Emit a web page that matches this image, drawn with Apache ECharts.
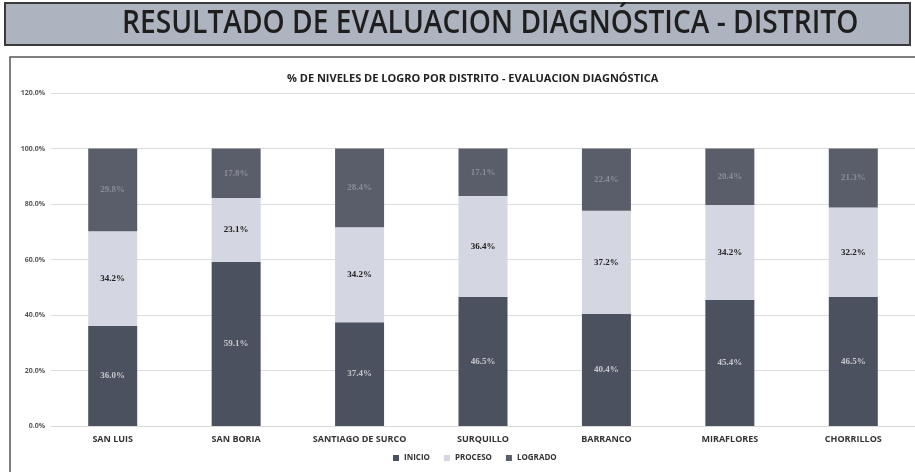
<!DOCTYPE html>
<html><head><meta charset="utf-8">
<script src="https://cdn.jsdelivr.net/npm/echarts@6/dist/echarts.min.js"></script>
<style>html,body{margin:0;padding:0;background:#fff;}#c{width:915px;height:472px;}</style>
</head><body><div id="c"></div>
<script>
const categories = ['SAN LUIS','SAN BORIA','SANTIAGO DE SURCO','SURQUILLO','BARRANCO','MIRAFLORES','CHORRILLOS'];
const inicio   = [36.0, 59.1, 37.4, 46.5, 40.4, 45.4, 46.5];
const proceso  = [34.2, 23.1, 34.2, 36.4, 37.2, 34.2, 32.2];
const logrado  = [29.8, 17.8, 28.4, 17.1, 22.4, 20.4, 21.3];
const yTicks = [0, 20, 40, 60, 80, 100, 120];

const chart = echarts.init(document.getElementById('c'));
const lbl = (color) => ({
  show: true, position: 'inside', color: color, fontSize: 9, fontWeight: 'bold',
  fontFamily: 'Liberation Serif', formatter: p => p.value.toFixed(1) + '%'
});
chart.setOption({
  animation: false,
  backgroundColor: '#fff',
  graphic: [
    {type: 'rect', shape: {x: 5, y: 3, width: 905, height: 42}, style: {fill: '#aeb3c0', stroke: '#3a3a3a', lineWidth: 2}, z: 0},
    {type: 'text', x: 122, y: 24, scaleX: 0.88,
     style: {x: 0, y: 0, text: 'RESULTADO DE EVALUACION DIAGNÓSTICA - DISTRITO', fill: '#1e1e1e',
             font: '600 32px "Open Sans"', textAlign: 'left', textVerticalAlign: 'middle'}, z: 1},
    {type: 'rect', shape: {x: 10, y: 57, width: 910, height: 420}, style: {fill: 'none', stroke: '#555', lineWidth: 1.5}, z: 0}
  ],
  title: {
    text: '% DE NIVELES DE LOGRO POR DISTRITO - EVALUACION DIAGNÓSTICA',
    left: 282, top: 68,
    textStyle: {fontSize: 11, fontWeight: 'bold', color: '#222', fontFamily: 'Open Sans'}
  },
  legend: {
    bottom: 5, left: 388, itemWidth: 6, itemHeight: 6, itemGap: 14,
    icon: 'rect',
    textStyle: {fontSize: 8, fontWeight: 'bold', color: '#333', fontFamily: 'Open Sans'},
    data: ['INICIO', 'PROCESO', 'LOGRADO']
  },
  grid: {left: 51, top: 93, width: 866, height: 333},
  xAxis: {
    type: 'category', data: categories,
    axisLine: {show: true, lineStyle: {color: '#d9d9d9'}}, axisTick: {show: false},
    axisLabel: {fontSize: 9, fontWeight: 'bold', color: '#333', fontFamily: 'Open Sans', margin: 9}
  },
  yAxis: {
    type: 'value', min: 0, max: 120, interval: 20,
    axisLine: {show: false}, axisTick: {show: false},
    splitLine: {lineStyle: {color: '#dcdcdc'}},
    axisLabel: {fontSize: 7, color: '#555', fontWeight: 'bold', fontFamily: 'Open Sans', margin: 6,
      formatter: v => yTicks.includes(v) ? v.toFixed(1) + '%' : ''}
  },
  series: [
    {name: 'INICIO', type: 'bar', stack: 't', data: inicio, barWidth: 49,
     itemStyle: {color: '#4c5160'}, label: lbl('#c8c8cc')},
    {name: 'PROCESO', type: 'bar', stack: 't', data: proceso,
     itemStyle: {color: '#d4d6e1'}, label: lbl('#222')},
    {name: 'LOGRADO', type: 'bar', stack: 't', data: logrado,
     itemStyle: {color: '#595e6a'}, label: lbl('#8a8d96')}
  ]
});
</script></body></html>
